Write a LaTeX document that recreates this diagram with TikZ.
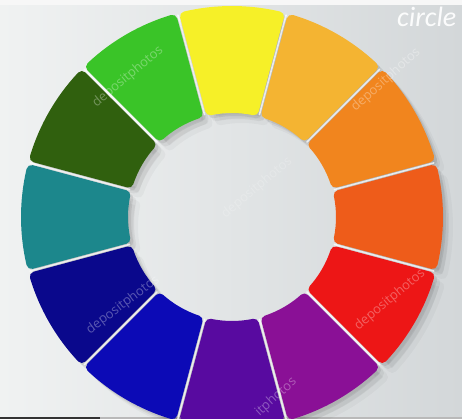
\documentclass[tikz,border=0pt]{standalone}
\usepackage{fontspec}
\newfontfamily\wmfont{Open Sans}
\newfontfamily\titlefont{Carlito}
\definecolor{bgl}{HTML}{F0F2F2}
\definecolor{bgm}{HTML}{E2E5E6}
\definecolor{bgr}{HTML}{D3D7D9}
\definecolor{cYel}{HTML}{F6F028}
\definecolor{cYO}{HTML}{F4B432}
\definecolor{cOr}{HTML}{F1851E}
\definecolor{cRO}{HTML}{EE5C1A}
\definecolor{cRed}{HTML}{ED1616}
\definecolor{cPur}{HTML}{8A1096}
\definecolor{cVio}{HTML}{580AA0}
\definecolor{cBlu}{HTML}{0C0AB6}
\definecolor{cNav}{HTML}{0A088C}
\definecolor{cTea}{HTML}{1C878C}
\definecolor{cDGr}{HTML}{30600E}
\definecolor{cGrn}{HTML}{3AC428}
\tikzset{
  wm/.style={text=white, opacity=0.32, font=\wmfont\fontsize{13}{13}\selectfont, inner sep=0pt},
  seg/.style={line width=10pt, line join=round},
}
\begin{document}
\begin{tikzpicture}[x=1pt,y=1pt]
\useasboundingbox (0,0) rectangle (462,419);
% background
\shade[left color=bgl, middle color=bgm, right color=bgr] (0,0) rectangle (462,419);
\fill[white!94!gray] (0,414) rectangle (462,419);
\fill[gray!55] (0,0) rectangle (462,2);
\fill[black!80] (0,0) rectangle (100,2);
\begin{scope}[shift={(232,202)}]
  % soft shadows
  \foreach \a in {90,60,30,0,-30,-60,-90,-120,-150,180,150,120}{
    \foreach \o/\op in {10/0.03,6/0.05,3/0.08}{
      \filldraw[black, opacity=\op, seg, shift={(\o,-\o)}]
        (\a-15+1.81:206) arc[start angle=\a-15+1.81, end angle=\a+15-1.81, radius=206]
        -- (\a+15-3.42:109) arc[start angle=\a+15-3.42, end angle=\a-15+3.42, radius=109] -- cycle;
    }
  }
  % segments
  \foreach \a/\c in {90/cYel,60/cYO,30/cOr,0/cRO,-30/cRed,-60/cPur,-90/cVio,-120/cBlu,-150/cNav,180/cTea,150/cDGr,120/cGrn}{
    \filldraw[fill=\c, draw=\c, seg]
      (\a-15+1.81:206) arc[start angle=\a-15+1.81, end angle=\a+15-1.81, radius=206]
      -- (\a+15-3.42:109) arc[start angle=\a+15-3.42, end angle=\a-15+3.42, radius=109] -- cycle;
  }
  % light gaps
  \foreach \a in {105,75,45,15,-15,-45,-75,-105,-135,-165,165,135}{
    \draw[white, opacity=0.75, line width=1.6pt, line cap=round] (\a:106) -- (\a:209);
  }
\end{scope}
% watermarks
\node[wm, rotate=40] (w1) at (128,342) {depositphotos};
\node[wm, rotate=42] (w2) at (386,339) {depositphotos};
\node[wm, rotate=40] (w3) at (390,119) {depositphotos};
\node[wm, rotate=37] (w4) at (123,114) {depositphotos};
\node[wm, rotate=42] (w5) at (276,22) {itphotos};
\node[wm, rotate=40, opacity=0.2] (w6) at (257,231) {depositphotos};
% title fragment
\node[anchor=base west, inner sep=0pt, text=white, opacity=0.92, font=\titlefont\itshape\fontsize{28}{28}\selectfont] (t) at (397,392) {circle};
\end{tikzpicture}
\end{document}
